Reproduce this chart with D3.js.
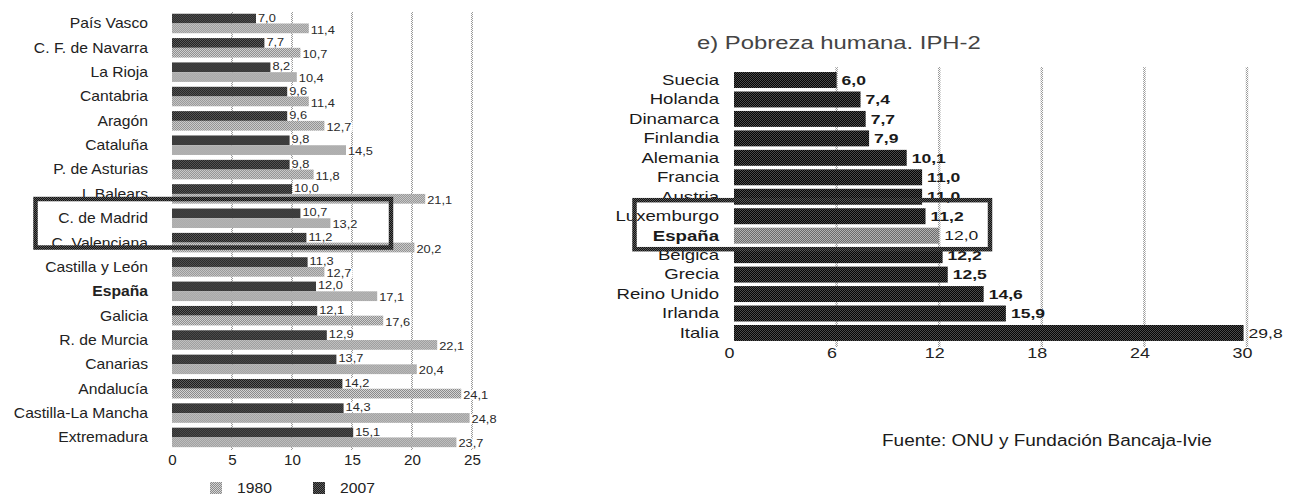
<!DOCTYPE html>
<html>
<head>
<meta charset="utf-8">
<script src="https://cdn.jsdelivr.net/npm/d3@7"></script>
<style>
  html, body { margin: 0; padding: 0; background: #fff; }
  svg { display: block; }
  text { font-family: "Liberation Sans", Arial, sans-serif; }
</style>
</head>
<body>
<svg id="chart" width="1302" height="496"></svg>
<script>
// ---- Regional panel: índice de pobreza por comunidad autónoma ----
const regions = [
  "País Vasco", "C. F. de Navarra", "La Rioja", "Cantabria", "Aragón",
  "Cataluña", "P. de Asturias", "I. Balears", "C. de Madrid", "C. Valenciana",
  "Castilla y León", "España", "Galicia", "R. de Murcia", "Canarias",
  "Andalucía", "Castilla-La Mancha", "Extremadura"
];
const values2007 = [7.0, 7.7, 8.2, 9.6, 9.6, 9.8, 9.8, 10.0, 10.7, 11.2,
                    11.3, 12.0, 12.1, 12.9, 13.7, 14.2, 14.3, 15.1];
const values1980 = [11.4, 10.7, 10.4, 11.4, 12.7, 14.5, 11.8, 21.1, 13.2, 20.2,
                    12.7, 17.1, 17.6, 22.1, 20.4, 24.1, 24.8, 23.7];
const years = ["1980", "2007"];
const regionTicks = [0, 5, 10, 15, 20, 25];
const highlightedRegion = "C. de Madrid";

// ---- Country panel: e) Pobreza humana. IPH-2 ----
const countries = [
  "Suecia", "Holanda", "Dinamarca", "Finlandia", "Alemania", "Francia",
  "Austria", "Luxemburgo", "España", "Bélgica", "Grecia", "Reino Unido",
  "Irlanda", "Italia"
];
const iph2 = [6.0, 7.4, 7.7, 7.9, 10.1, 11.0, 11.0, 11.2, 12.0, 12.2, 12.5, 14.6, 15.9, 29.8];
const countryTicks = [0, 6, 12, 18, 24, 30];
const highlightedCountry = "España";
const lightValueCountries = ["España", "Italia"];

const chartTitle = "e) Pobreza humana. IPH-2";
const sourceNote = "Fuente: ONU y Fundación Bancaja-Ivie";

// Spanish number format: decimal comma
const es = d3.formatLocale({ decimal: ",", thousands: ".", grouping: [3], currency: ["", " €"] });
const fmt = es.format(".1f");

const svg = d3.select("#chart");

// Dithered (checkerboard) fills
const defs = svg.append("defs");
function checker(id, a, b) {
  const p = defs.append("pattern").attr("id", id)
    .attr("patternUnits", "userSpaceOnUse").attr("width", 2).attr("height", 2);
  p.append("rect").attr("width", 2).attr("height", 2).attr("fill", a);
  p.append("rect").attr("x", 0).attr("y", 0).attr("width", 1).attr("height", 1).attr("fill", b);
  p.append("rect").attr("x", 1).attr("y", 1).attr("width", 1).attr("height", 1).attr("fill", b);
}
checker("dark", "#1c1c1c", "#5e5e5e");
checker("light", "#8a8a8a", "#d4d4d4");
checker("ink", "#050505", "#4a4a4a");
checker("mid", "#6c6c6c", "#b4b4b4");
checker("frame", "#101010", "#5a5a5a");
checker("grid", "#ffffff", "#9a9a9a");

// Horizontally stretched text helper
function label(parent, x, y, txt, o) {
  const g = parent.append("g")
    .attr("transform", `translate(${x},${y}) scale(${o.sx || 1},1)`);
  const t = g.append("text")
    .attr("x", 0).attr("y", 0)
    .attr("dy", o.dy || "0.35em")
    .attr("text-anchor", o.anchor || "start")
    .attr("font-size", o.size)
    .attr("font-weight", o.weight || "normal")
    .attr("fill", o.fill || "#222")
    .text(txt);
  if (o.bg) {
    const b = t.node().getBBox();
    g.insert("rect", "text")
      .attr("x", b.x - 1).attr("y", b.y + 1)
      .attr("width", b.width + 2).attr("height", b.height - 2)
      .attr("fill", "#fff");
  }
  return g;
}

// ================= Left: regions =================
const L = svg.append("g");
const xL = d3.scaleLinear().domain([0, 25]).range([172, 472]);
const yL = d3.scaleBand().domain(regions).range([11.3, 449.6])
  .paddingInner(0.2).paddingOuter(0.1);
const subL = d3.scaleBand().domain(["2007", "1980"]).range([0, yL.bandwidth()]);

// gridlines
L.append("g").selectAll("line").data(regionTicks.filter(d => d > 0)).join("line")
  .attr("x1", d => xL(d)).attr("x2", d => xL(d))
  .attr("y1", 12).attr("y2", 450)
  .attr("stroke", "url(#grid)").attr("stroke-width", 2);

const rowsL = regions.map((r, i) => ({ region: r, v2007: values2007[i], v1980: values1980[i] }));

const gRow = L.append("g").selectAll("g").data(rowsL).join("g")
  .attr("transform", d => `translate(0,${yL(d.region)})`);

gRow.append("rect")
  .attr("x", xL(0)).attr("y", subL("2007"))
  .attr("width", d => xL(d.v2007) - xL(0)).attr("height", subL.bandwidth())
  .attr("fill", "url(#dark)");
gRow.append("rect")
  .attr("x", xL(0)).attr("y", subL("1980"))
  .attr("width", d => xL(d.v1980) - xL(0)).attr("height", subL.bandwidth())
  .attr("fill", "url(#light)");

// value labels
rowsL.forEach(d => {
  const y0 = yL(d.region);
  label(L, xL(d.v2007) + 2, y0 + subL("2007") + subL.bandwidth() / 2 - 0.7, fmt(d.v2007),
        { size: 10.5, sx: 1.22, fill: "#2a2a2a", bg: true });
  label(L, xL(d.v1980) + 2, y0 + subL("1980") + subL.bandwidth() / 2 + 1.5, fmt(d.v1980),
        { size: 10.5, sx: 1.22, fill: "#2a2a2a", bg: true });
});

// category labels
regions.forEach(r => {
  label(L, 148, yL(r) + yL.bandwidth() / 2, r,
        { size: 14, sx: 1.12, anchor: "end", fill: "#222",
          weight: r === "España" ? "bold" : "normal" });
});

// x axis
const axL = L.append("g").attr("transform", "translate(0,448)")
  .call(d3.axisBottom(xL).tickValues(regionTicks).tickSize(0).tickPadding(7));
axL.select(".domain").remove();
axL.selectAll("text")
  .attr("font-size", 14).attr("fill", "#222")
  .attr("font-family", "'Liberation Sans', Arial, sans-serif")
  .attr("transform", "scale(1.08,1)");

// legend
const legend = L.append("g");
const legendX = { "1980": 210, "2007": 313 };
years.forEach(yr => {
  legend.append("rect")
    .attr("x", legendX[yr]).attr("y", 482).attr("width", 12).attr("height", 12)
    .attr("fill", yr === "1980" ? "url(#light)" : "url(#dark)");
  label(legend, legendX[yr] + 27, 488, yr, { size: 14, sx: 1.12, fill: "#222" });
});

// highlight frame
L.append("rect")
  .attr("x", 35.5).attr("y", yL(highlightedRegion) - 9.5)
  .attr("width", 355.5).attr("height", 48.5)
  .attr("fill", "none").attr("stroke", "url(#frame)").attr("stroke-width", 4.5);

// ================= Right: countries =================
const R = svg.append("g");
const xR = d3.scaleLinear().domain([0, 30]).range([734, 1247]);
const yR = d3.scaleBand().domain(countries).range([70.27, 342.7])
  .paddingInner(0.18).paddingOuter(0.09);

label(R, 697, 43, chartTitle, { size: 18.5, sx: 1.29, fill: "#444" });

R.append("g").selectAll("line").data(countryTicks.filter(d => d > 0)).join("line")
  .attr("x1", d => xR(d)).attr("x2", d => xR(d))
  .attr("y1", 67).attr("y2", 347)
  .attr("stroke", "url(#grid)").attr("stroke-width", 2.5);

const rowsR = countries.map((c, i) => ({ country: c, v: iph2[i] }));

R.append("g").selectAll("rect").data(rowsR).join("rect")
  .attr("x", xR(0)).attr("y", d => yR(d.country))
  .attr("width", d => xR(d.v) - xR(0)).attr("height", yR.bandwidth())
  .attr("fill", d => d.country === highlightedCountry ? "url(#mid)" : "url(#ink)");

rowsR.forEach(d => {
  const cy = yR(d.country) + yR.bandwidth() / 2;
  label(R, xR(d.v) + 5, cy, fmt(d.v),
        { size: 13.5, sx: 1.3, fill: "#1a1a1a",
          weight: lightValueCountries.includes(d.country) ? "normal" : "bold" });
  label(R, 719, cy, d.country,
        { size: 14, sx: 1.33, anchor: "end", fill: "#1a1a1a",
          weight: d.country === highlightedCountry ? "bold" : "normal" });
});

const axR = R.append("g").attr("transform", "translate(0,343)")
  .call(d3.axisBottom(xR).tickValues(countryTicks).tickSize(0).tickPadding(5));
axR.select(".domain").remove();
axR.selectAll("text")
  .attr("font-size", 14).attr("fill", "#222")
  .attr("font-family", "'Liberation Sans', Arial, sans-serif")
  .attr("transform", "translate(-5,0) scale(1.28,1)");

// highlight frame
R.append("rect")
  .attr("x", 634.5).attr("y", yR(highlightedCountry) - 27.5)
  .attr("width", 355.5).attr("height", 49)
  .attr("fill", "none").attr("stroke", "url(#frame)").attr("stroke-width", 4.5);

// source note
label(svg, 882, 440, sourceNote, { size: 16.5, sx: 1.15, anchor: "start", fill: "#1a1a1a" });
</script>
</body>
</html>
